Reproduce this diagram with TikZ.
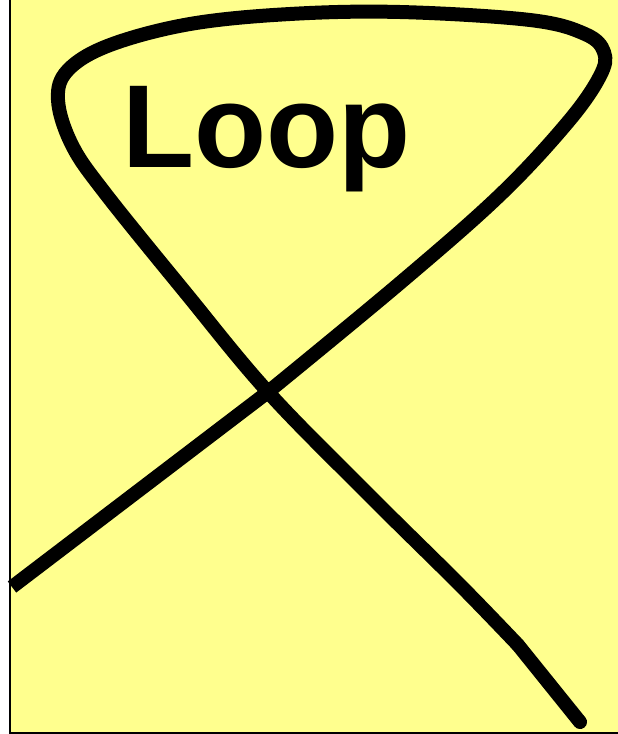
\documentclass[tikz,border=0pt]{standalone}
\usepackage{fontspec}
\setmainfont{Liberation Sans}
\usetikzlibrary{positioning}
\definecolor{notepad}{RGB}{255,255,142}

\begin{document}
\begin{tikzpicture}[x=1pt,y=-1pt]
  \useasboundingbox (0,0) rectangle (618,734);
  \fill[notepad] (10,0) rectangle (618,733);
  \draw[line width=1.5pt] (10,0) -- (10,733) -- (618,733);
  % the loop
  \draw[line width=14pt,line join=round] (12,587) -- (268,392)
    plot[smooth,tension=0.6] coordinates {(268,392) (400,283) (500,195) (568,122)
      (600,76) (604,52) (585,34) (530,20) (400,12) (290,14) (190,24) (110,45)
      (68,70) (58,100) (72,145) (105,193) (185,292) (268,392) (370,496)
      (460,585) (518,645)};
  \draw[line width=14pt,line cap=round] (518,645) -- (580,722);
  \node[anchor=base west,inner sep=0pt,font=\bfseries\fontsize{118}{118}\selectfont]
    (title) at (122,167) {Loop};
\end{tikzpicture}
\end{document}
